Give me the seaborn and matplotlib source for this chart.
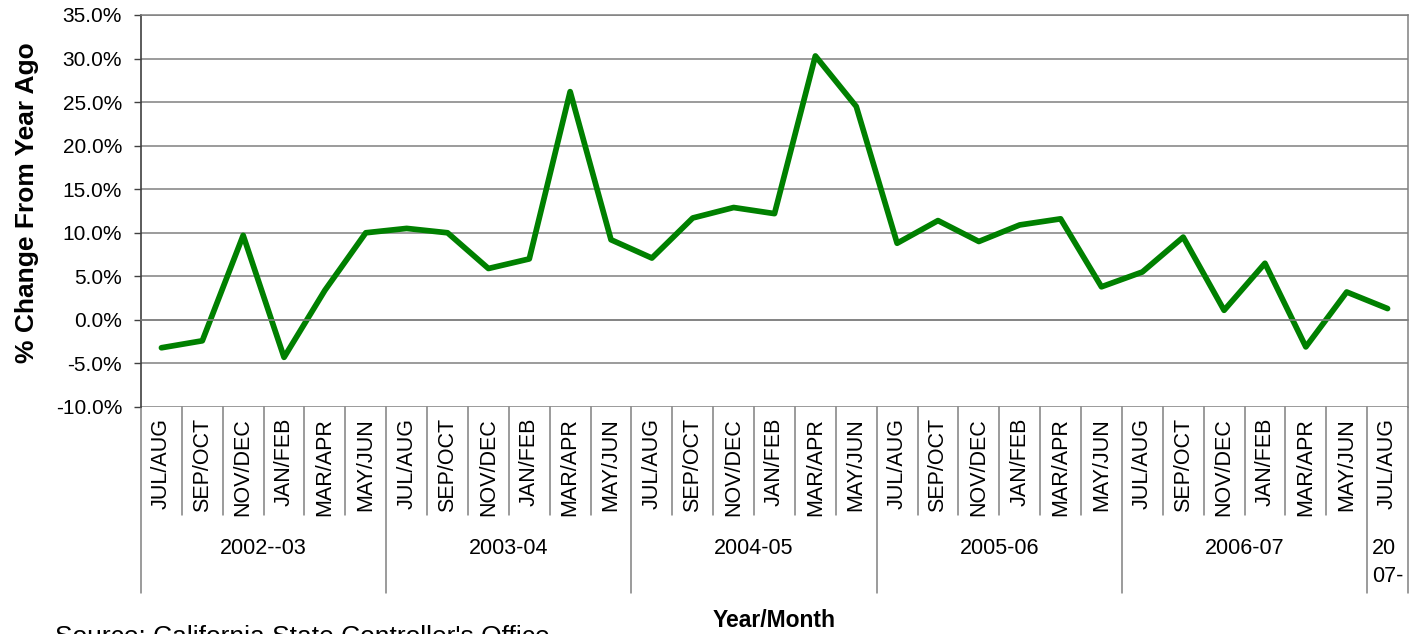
import numpy as np
import pandas as pd
import matplotlib
matplotlib.use("Agg")
import matplotlib.pyplot as plt
import seaborn as sns
from matplotlib.ticker import PercentFormatter, MultipleLocator
from matplotlib.transforms import blended_transform_factory

# ---------------- data ----------------
month_labels = (["JUL/AUG", "SEP/OCT", "NOV/DEC", "JAN/FEB", "MAR/APR", "MAY/JUN"] * 5
                + ["JUL/AUG"])
year_labels = ["2002--03", "2003-04", "2004-05", "2005-06", "2006-07", "20\n07-"]
year_spans = [6, 6, 6, 6, 6, 1]
pct_change = [-3.2, -2.4, 9.7, -4.3, 3.4, 10.0,
              10.5, 10.0, 5.9, 7.0, 26.2, 9.2,
              7.1, 11.7, 12.9, 12.2, 30.3, 24.5,
              8.8, 11.4, 9.0, 10.9, 11.6, 3.8,
              5.5, 9.5, 1.1, 6.5, -3.1, 3.2,
              1.3]

# ---------------- style ----------------
sns.set_style("white")
plt.rcParams["font.family"] = ["Liberation Sans", "DejaVu Sans"]
plt.rcParams["axes.unicode_minus"] = False
plt.rcParams["text.color"] = "black"
plt.rcParams["axes.labelcolor"] = "black"
plt.rcParams["xtick.color"] = "black"
plt.rcParams["ytick.color"] = "black"

W, H = 1413, 634
fig = plt.figure(figsize=(W / 100, H / 100), dpi=100)
L, R, T, B = 141, 1408, 15, 407
ax = fig.add_axes([L / W, 1 - B / H, (R - L) / W, (B - T) / H])

n = len(month_labels)
df = pd.DataFrame({"pos": np.arange(n), "pct": pct_change})
sns.lineplot(data=df, x="pos", y="pct", ax=ax, color="#008000", linewidth=4.1)
ln = ax.lines[0]
ln.set_solid_capstyle("round")
ln.set_solid_joinstyle("round")

ax.set_xlim(-0.5, n - 0.5)
ax.set_ylim(-10, 35)
ax.yaxis.set_major_locator(MultipleLocator(5))
ax.yaxis.set_major_formatter(PercentFormatter(100, decimals=1))
ax.grid(axis="y", color="#808080", linewidth=1.1)
ax.grid(axis="x", visible=False)
ax.set_axisbelow(True)

grey = "#808080"
for s in ["top", "right"]:
    ax.spines[s].set_color(grey)
    ax.spines[s].set_linewidth(1.1)
ax.spines["left"].set_color("#404040")
ax.spines["left"].set_linewidth(1.2)
ax.spines["bottom"].set_position(("data", 0))
ax.spines["bottom"].set_color(grey)
ax.spines["bottom"].set_linewidth(1.1)

ax.set_xticks(np.arange(-0.5, n + 0.5, 1))
ax.tick_params(axis="x", direction="out", length=5, width=1, color=grey,
               labelbottom=False)
ax.tick_params(axis="y", direction="out", length=5, width=1, color="#404040",
               labelcolor="black", labelsize=15, pad=8.6, left=True)

# axis titles
ax.set_ylabel("% Change From Year Ago", fontsize=19, fontweight="bold",
              color="black")
ax.yaxis.set_label_coords(-0.0808, (B - 203) / (B - T))
ax.set_xlabel("Year/Month", fontsize=16.5, fontweight="bold", color="black")
ax.xaxis.set_label_coords(0.5, (B - 609) / (B - T))

# category labels (two-level)
trans = blended_transform_factory(ax.transData, ax.transAxes)
def fy(py):
    return (B - py) / (B - T)

for i, lab in enumerate(month_labels):
    ax.text(i, fy(418), lab, rotation=90, ha="center", va="top",
            fontsize=15.5, color="black", transform=trans)

start = 0
year_bounds = [0]
for lab, span in zip(year_labels, year_spans):
    ax.text(start + span / 2 - 0.5, fy(538), lab, ha="center", va="top",
            multialignment="left", linespacing=1.45, fontsize=15.5,
            color="black", transform=trans)
    start += span
    year_bounds.append(start)

for k in range(n + 1):
    y1 = 593 if k in year_bounds else 515
    ax.plot([k - 0.5, k - 0.5], [fy(B), fy(y1)], transform=trans,
            clip_on=False, color=grey, linewidth=1.1)

fig.text(55 / W, 1 - 625 / H, "Source: California State Controller's Office",
         fontsize=19, ha="left", va="top", color="black")

fig.savefig("out.png", dpi=100)
